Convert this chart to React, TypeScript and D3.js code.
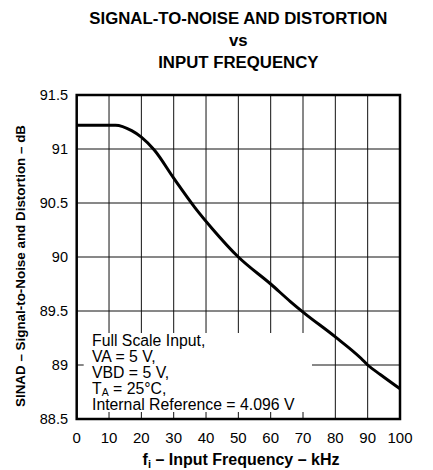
import React from "react";
import * as d3 from "d3";

const freq = [0, 12, 17, 20, 24, 30, 36.5, 42, 50, 60, 66, 70, 80, 88, 90, 94, 100];
const sinad = [91.22, 91.22, 91.17, 91.11, 90.99, 90.73, 90.46, 90.26, 90.0, 89.75, 89.59, 89.49, 89.26, 89.06, 89.0, 88.91, 88.78];
const xTicks = [0, 10, 20, 30, 40, 50, 60, 70, 80, 90, 100];
const yTicks = [88.5, 89, 89.5, 90, 90.5, 91, 91.5];
const titleLines = ["SIGNAL-TO-NOISE AND DISTORTION", "vs", "INPUT FREQUENCY"];

export default function App() {
  const W = 433, H = 470;
  const L = 76.7, R = 400, T = 95, B = 419;
  const x = d3.scaleLinear().domain([0, 100]).range([L, R]);
  const y = d3.scaleLinear().domain([88.5, 91.5]).range([B, T]);
  const line = d3.line<number>().x((d, i) => x(freq[i])).y((d) => y(d)).curve(d3.curveMonotoneX);
  const boxR = 312, boxT = 333;
  const font = "Liberation Sans, Arial, sans-serif";
  const titleY = [24, 46, 68];
  return (
    <svg width={W} height={H} style={{ position: "absolute", left: 0, top: 0 }} fontFamily={font}>
      <rect width={W} height={H} fill="#fff" />
      {titleLines.map((t, i) => (
        <text key={i} x={(L + R) / 2} y={titleY[i]} textAnchor="middle" fontWeight="bold" fontSize={16.8}>{t}</text>
      ))}
      {xTicks.slice(1, -1).map((v) => (
        <line key={"gx" + v} x1={x(v)} x2={x(v)} y1={T} y2={B} stroke="#111" strokeWidth={1} />
      ))}
      {yTicks.slice(1, -1).map((v) => (
        <line key={"gy" + v} x1={L} x2={R} y1={y(v)} y2={y(v)} stroke="#111" strokeWidth={1} />
      ))}
      <rect x={L} y={boxT} width={boxR - L} height={B - boxT} fill="#fff" />
      {xTicks.slice(1, -1).filter((v) => x(v) < boxR).map((v) => (
        <line key={"tx" + v} x1={x(v)} x2={x(v)} y1={B - 7} y2={B} stroke="#111" strokeWidth={1} />
      ))}
      {yTicks.slice(1, -1).filter((v) => y(v) > boxT).map((v) => (
        <line key={"ty" + v} x1={L} x2={L + 7} y1={y(v)} y2={y(v)} stroke="#111" strokeWidth={1} />
      ))}
      <path d={line(sinad) || ""} fill="none" stroke="#000" strokeWidth={3} />
      <rect x={L} y={T} width={R - L} height={B - T} fill="none" stroke="#000" strokeWidth={2.5} />
      {xTicks.map((v) => (
        <text key={"lx" + v} x={x(v)} y={443} textAnchor="middle" fontSize={15}>{v}</text>
      ))}
      {yTicks.map((v) => (
        <text key={"ly" + v} x={68} y={y(v) + 5} textAnchor="end" fontSize={14.5}>{v}</text>
      ))}
      <text x={241} y={465} textAnchor="middle" fontWeight="bold" fontSize={16}>
        f<tspan fontSize={11} dy={3}>i</tspan><tspan dy={-3}> – Input Frequency – kHz</tspan>
      </text>
      <text transform={`translate(25,266) rotate(-90)`} textAnchor="middle" fontWeight="bold" fontSize={13.4}>
        SINAD – Signal-to-Noise and Distortion – dB
      </text>
      <g fontSize={15.8}>
        <text x={92} y={346}>Full Scale Input,</text>
        <text x={92} y={362}>VA = 5 V,</text>
        <text x={92} y={378}>VBD = 5 V,</text>
        <text x={92} y={394}>T<tspan fontSize={10.5} dy={2}>A</tspan><tspan dy={-2}> = 25°C,</tspan></text>
        <text x={92} y={410}>Internal Reference = 4.096 V</text>
      </g>
    </svg>
  );
}
